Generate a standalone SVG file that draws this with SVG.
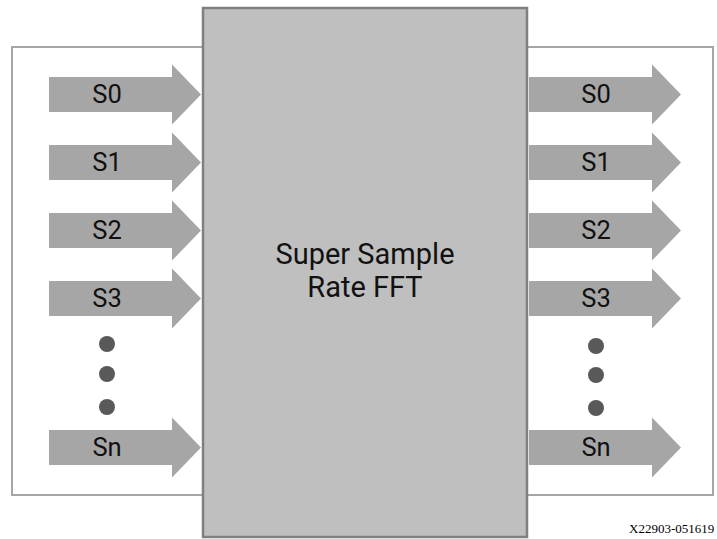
<svg xmlns="http://www.w3.org/2000/svg" width="717" height="539" viewBox="0 0 717 539">
<style>
.frame{fill:#fff;stroke:#a6a6a6;stroke-width:2}
.core{fill:#bfbfbf;stroke:#808080;stroke-width:2.5}
.arr{fill:#a6a6a6}
.dot{fill:#595959}
.lbl{font-family:Roboto,"Liberation Sans",sans-serif;font-size:25.5px;fill:#111;text-anchor:middle}
.title{font-family:Roboto,"Liberation Sans",sans-serif;font-size:29px;fill:#111;text-anchor:middle}
.foot{font-family:"Liberation Serif",serif;font-size:13px;fill:#000}
</style>
<defs>
<polygon id="arrowL" points="0,-17.5 123,-17.5 123,-30 152,0 123,30 123,17.5 0,17.5"/>
</defs>
<rect class="frame" x="12" y="47" width="701" height="448"/>
<g id="core">
<rect class="core" x="203" y="8" width="324" height="529"/>
<text class="title" x="365" y="264">Super Sample</text>
<text class="title" x="365" y="297">Rate FFT</text>
</g>
<g id="inputs">
<g id="in-S0"><use href="#arrowL" class="arr" x="49" y="94.5"/><text class="lbl" x="107" y="103">S0</text></g>
<g id="in-S1"><use href="#arrowL" class="arr" x="49" y="162.5"/><text class="lbl" x="107" y="171">S1</text></g>
<g id="in-S2"><use href="#arrowL" class="arr" x="49" y="230.5"/><text class="lbl" x="107" y="239">S2</text></g>
<g id="in-S3"><use href="#arrowL" class="arr" x="49" y="298.5"/><text class="lbl" x="107" y="307">S3</text></g>
<g id="in-dots"><circle class="dot" cx="107" cy="344" r="8"/><circle class="dot" cx="107" cy="374" r="8"/><circle class="dot" cx="107" cy="407" r="8"/></g>
<g id="in-Sn"><use href="#arrowL" class="arr" x="49" y="447.5"/><text class="lbl" x="107" y="456">Sn</text></g>
</g>
<g id="outputs">
<g id="out-S0"><use href="#arrowL" class="arr" x="529" y="94.5"/><text class="lbl" x="596" y="103">S0</text></g>
<g id="out-S1"><use href="#arrowL" class="arr" x="529" y="162.5"/><text class="lbl" x="596" y="171">S1</text></g>
<g id="out-S2"><use href="#arrowL" class="arr" x="529" y="230.5"/><text class="lbl" x="596" y="239">S2</text></g>
<g id="out-S3"><use href="#arrowL" class="arr" x="529" y="298.5"/><text class="lbl" x="596" y="307">S3</text></g>
<g id="out-dots"><circle class="dot" cx="596" cy="346" r="8"/><circle class="dot" cx="596" cy="375" r="8"/><circle class="dot" cx="596" cy="408" r="8"/></g>
<g id="out-Sn"><use href="#arrowL" class="arr" x="529" y="447.5"/><text class="lbl" x="596" y="456">Sn</text></g>
</g>
<text class="foot" x="629" y="533">X22903-051619</text>
</svg>
